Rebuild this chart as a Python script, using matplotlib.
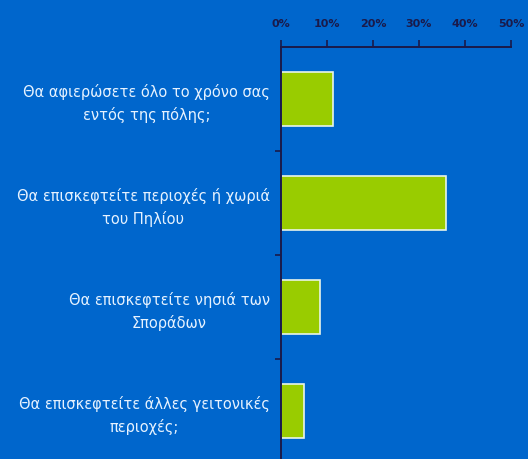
import matplotlib
matplotlib.use("Agg")
import matplotlib.pyplot as plt
from matplotlib.ticker import FuncFormatter

categories = [
    "Θα αφιερώσετε όλο το χρόνο σας\nεντός της πόλης;",
    "Θα επισκεφτείτε περιοχές ή χωριά\nτου Πηλίου",
    "Θα επισκεφτείτε νησιά των\nΣποράδων",
    "Θα επισκεφτείτε άλλες γειτονικές\nπεριοχές;",
]
values = [11.3, 35.9, 8.5, 5.0]
x_ticks = [0, 10, 20, 30, 40, 50]

bg = "#0066CC"
navy = "#1A1A4A"

plt.rcParams['font.family'] = ['DejaVu Sans']

fig = plt.figure(figsize=(5.28, 4.59), dpi=100, facecolor=bg)
ax = fig.add_axes([281 / 528, 0.0, 230 / 528, 1 - 47 / 459])
ax.set_facecolor(bg)

pos = list(range(len(categories)))
ax.barh(pos, values, height=0.51, color="#99CC00", edgecolor="#E8F4E8", linewidth=1.2)

ax.set_xlim(0, 50)
ax.set_ylim(-0.5 + 412 / 104, -0.5)
ax.xaxis.tick_top()
ax.set_xticks(x_ticks)
ax.xaxis.set_major_formatter(FuncFormatter(lambda v, p: f"{int(v)}%"))
ax.tick_params(axis="x", colors=navy, labelcolor=navy, labelsize=8, length=5, width=1.2, pad=8)
for t in ax.get_xticklabels():
    t.set_fontweight("bold")

ax.set_yticks([p + 0.5 for p in pos[:-1]], minor=False)
ax.set_yticklabels([])
ax.set_yticks(pos, minor=True)
ax.set_yticklabels(categories, minor=True, fontsize=10.5, color="#E6F2FF",
                   multialignment="center", linespacing=1.5)
ax.tick_params(axis="y", which="major", colors=navy, length=4, width=1.2)
ax.tick_params(axis="y", which="minor", length=0, pad=8)

for s in ["right", "bottom"]:
    ax.spines[s].set_visible(False)
for s in ["top", "left"]:
    ax.spines[s].set_color(navy)
    ax.spines[s].set_linewidth(1.4)

fig.savefig("out.png", dpi=100, facecolor=bg)
